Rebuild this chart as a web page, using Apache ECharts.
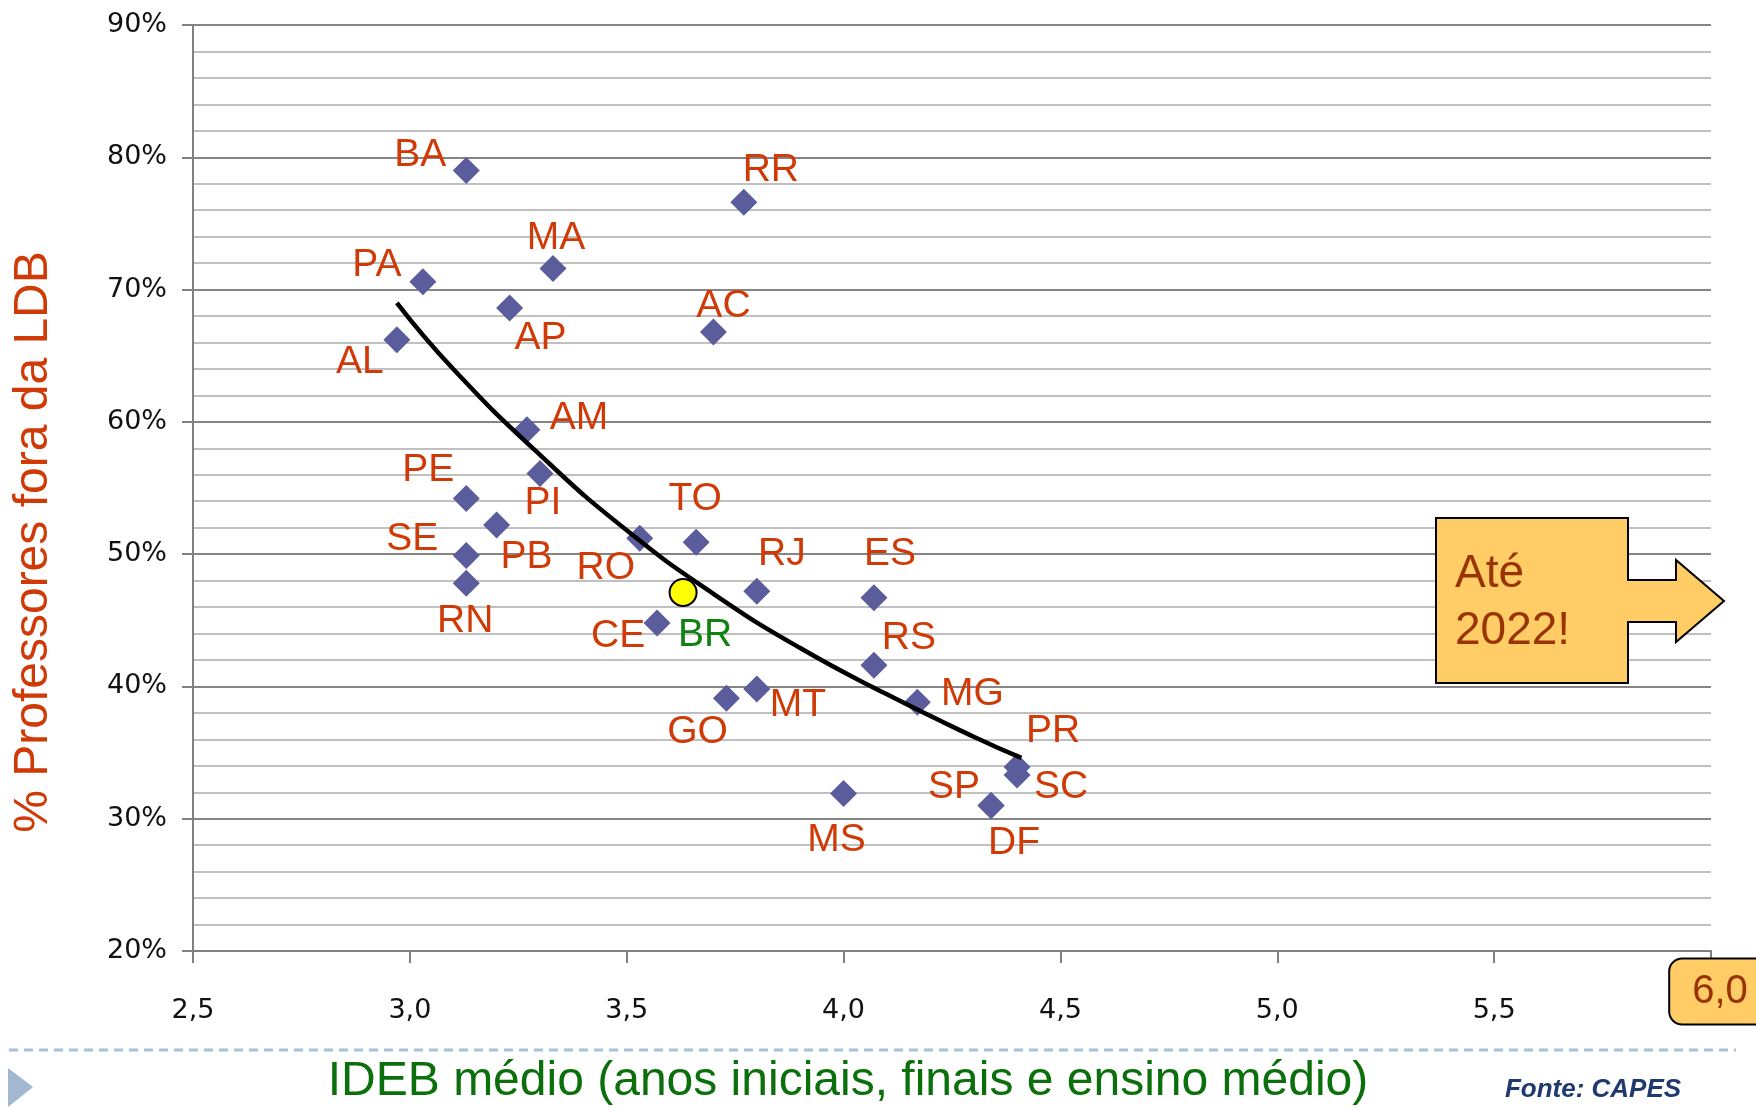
<!DOCTYPE html>
<html>
<head>
<meta charset="utf-8">
<script src="https://cdn.jsdelivr.net/npm/echarts@6/dist/echarts.min.js"></script>
<style>
html,body{margin:0;padding:0;background:#fff;}
#chart{width:1756px;height:1108px;}
</style>
</head>
<body>
<div id="chart"></div>
<script>
// dados (IDEB médio x % professores fora da LDB)
var estados = ['BA','RR','MA','PA','AP','AC','AL','AM','PI','PE','PB','RO','TO','SE','RN','RJ','ES','CE','RS','MT','GO','MG','PR','SC','MS','SP','DF'];
var ideb    = [3.13,3.77,3.33,3.03,3.23,3.70,2.97,3.27,3.30,3.13,3.20,3.53,3.66,3.13,3.13,3.80,4.07,3.57,4.07,3.80,3.73,4.17,4.40,4.40,4.00,4.34,4.34];
var foraLdb = [79.0,76.6,71.6,70.6,68.6,66.8,66.2,59.4,56.1,54.2,52.2,51.2,50.9,49.9,47.8,47.2,46.7,44.8,41.6,39.8,39.1,38.8,33.9,33.3,31.9,31.0,31.0];
var brasilNome = 'BR';
var brasilIdeb = 3.63;
var brasilFora = 47.1;
// pontos lidos sobre a curva de tendência
var tendIdeb = [2.97,3.10,3.30,3.50,3.70,3.90,4.10,4.30,4.41];
var tendFora = [69.0,64.0,57.5,51.8,47.0,42.9,39.4,36.2,34.6];
var xTicks = [2.5,3.0,3.5,4.0,4.5,5.0,5.5,6.0];
var yTicks = [20,30,40,50,60,70,80,90];

// posição dos rótulos em relação ao ponto (px)
var rotuloPos = {
    BA:[-46,-15], RR:[27,-32], MA:[3,-30], PA:[-46,-16], AP:[31,30], AC:[10,-26],
    AL:[-37,22], AM:[52,-12], PI:[3,30], PE:[-38,-28], PB:[30,32], RO:[-34,30],
    TO:[-1,-43], SE:[-54,-16], RN:[-1,38], RJ:[25,-37], ES:[16,-44], CE:[-39,13],
    RS:[35,-27], MT:[41,16], GO:[-29,34], MG:[55,-8], PR:[36,-36], SC:[44,12],
    MS:[-7,47], SP:[-37,-18], DF:[23,38]
};

var vermelho = '#CF3A06';
var xMin = xTicks[0], xMax = xTicks[xTicks.length-1];
var yMin = yTicks[0], yMax = yTicks[yTicks.length-1];

var pontos = estados.map(function(n, i){
    return {name: n, value: [ideb[i], foraLdb[i]], label: {offset: rotuloPos[n]}};
});
var tendencia = tendIdeb.map(function(x, i){ return [x, tendFora[i]]; });

var chart = echarts.init(document.getElementById('chart'));
chart.setOption({
    backgroundColor: '#fff',
    animation: false,
    grid: {left: 193, right: 45, top: 25, bottom: 157, outerBoundsMode: 'none'},
    xAxis: {
        type: 'value', min: xMin, max: xMax, interval: 0.5,
        axisLine: {onZero: false, lineStyle: {color: '#808080', width: 2}},
        axisTick: {length: 12, lineStyle: {color: '#808080', width: 2}},
        splitLine: {show: false},
        axisLabel: {
            margin: 18, showMaxLabel: true, showMinLabel: true,
            formatter: function(v){
                var t = v.toFixed(1).replace('.', ',');
                return v === xMax ? '{gap| }{meta|' + t + '}' : '{n|' + t + '}';
            },
            rich: {
                n: {fontSize: 27, fontFamily: 'DejaVu Sans', color: '#111', padding: [28,0,0,0]},
                gap: {width: 18, fontSize: 10},
                meta: {fontSize: 40, fontFamily: 'Liberation Sans', color: '#993300', lineHeight: 45,
                       backgroundColor: '#FFCC66', borderColor: '#000', borderWidth: 2, borderRadius: 12,
                       padding: [12,22,12,22]}
            }
        }
    },
    yAxis: {
        type: 'value', min: yMin, max: yMax, interval: 10,
        axisLine: {show: true, lineStyle: {color: '#808080', width: 2}},
        axisTick: {show: true, length: 11, lineStyle: {color: '#808080', width: 2}},
        axisLabel: {formatter: '{value}%', margin: 26, fontSize: 27, fontFamily: 'DejaVu Sans', color: '#111'},
        splitLine: {lineStyle: {color: '#858585', width: 2}},
        minorTick: {show: false, splitNumber: 5},
        minorSplitLine: {show: true, lineStyle: {color: '#c0c0c0', width: 2}}
    },
    series: [
        {
            name: 'Estados', type: 'scatter', data: pontos,
            symbol: 'diamond', symbolSize: 27, z: 2,
            itemStyle: {color: '#5A5C9C', opacity: 1},
            label: {show: true, position: 'inside', formatter: '{b}', color: vermelho,
                    fontSize: 39, fontFamily: 'Liberation Sans', align: 'center', verticalAlign: 'middle'}
        },
        {
            name: 'Tendência', type: 'line', data: tendencia, smooth: true,
            showSymbol: false, z: 3, silent: true,
            lineStyle: {color: '#000', width: 4.5}
        },
        {
            name: 'Brasil', type: 'scatter', z: 4,
            data: [{name: brasilNome, value: [brasilIdeb, brasilFora], label: {offset: [22, 43]}}],
            symbol: 'circle', symbolSize: 27,
            itemStyle: {color: '#FFFF00', borderColor: '#000', borderWidth: 2, opacity: 1},
            label: {show: true, position: 'inside', formatter: '{b}', color: '#0F820F',
                    fontSize: 39, fontFamily: 'Liberation Sans', align: 'center', verticalAlign: 'middle'}
        }
    ],
    graphic: [
        {type: 'text', x: 34, y: 542, rotation: Math.PI/2,
         style: {text: '% Professores fora da LDB', fill: vermelho, fontSize: 48, fontFamily: 'Liberation Sans',
                 align: 'center', verticalAlign: 'middle'}},
        {type: 'text', x: 848, y: 1082,
         style: {text: 'IDEB médio (anos iniciais, finais e ensino médio)', fill: '#0B700B', fontSize: 48,
                 fontFamily: 'Liberation Sans', align: 'center', verticalAlign: 'middle'}},
        {type: 'text', x: 1593, y: 1090,
         style: {text: 'Fonte: CAPES', fill: '#1F3A6E', fontSize: 26, fontWeight: 'bold', fontStyle: 'italic',
                 fontFamily: 'Liberation Sans', align: 'center', verticalAlign: 'middle'}},
        {type: 'line', shape: {x1: 9, y1: 1050, x2: 1736, y2: 1050},
         style: {stroke: '#A9C0D8', lineWidth: 3, lineDash: [9, 6]}},
        {type: 'polygon', shape: {points: [[8,1068],[33,1087],[8,1107]]}, style: {fill: '#A2B8D0'}},
        {type: 'polygon', z: 10,
         shape: {points: [[1436,518],[1628,518],[1628,580],[1676,580],[1676,560],[1724,601],
                          [1676,642],[1676,622],[1628,622],[1628,683],[1436,683]]},
         style: {fill: '#FFCC66', stroke: '#000', lineWidth: 2}},
        {type: 'text', x: 1455, y: 574, z: 11,
         style: {text: 'Até', fill: '#993300', fontSize: 46, fontFamily: 'Liberation Sans', verticalAlign: 'middle'}},
        {type: 'text', x: 1455, y: 631, z: 11,
         style: {text: '2022!', fill: '#993300', fontSize: 46, fontFamily: 'Liberation Sans', verticalAlign: 'middle'}}
    ]
});
</script>
</body>
</html>
